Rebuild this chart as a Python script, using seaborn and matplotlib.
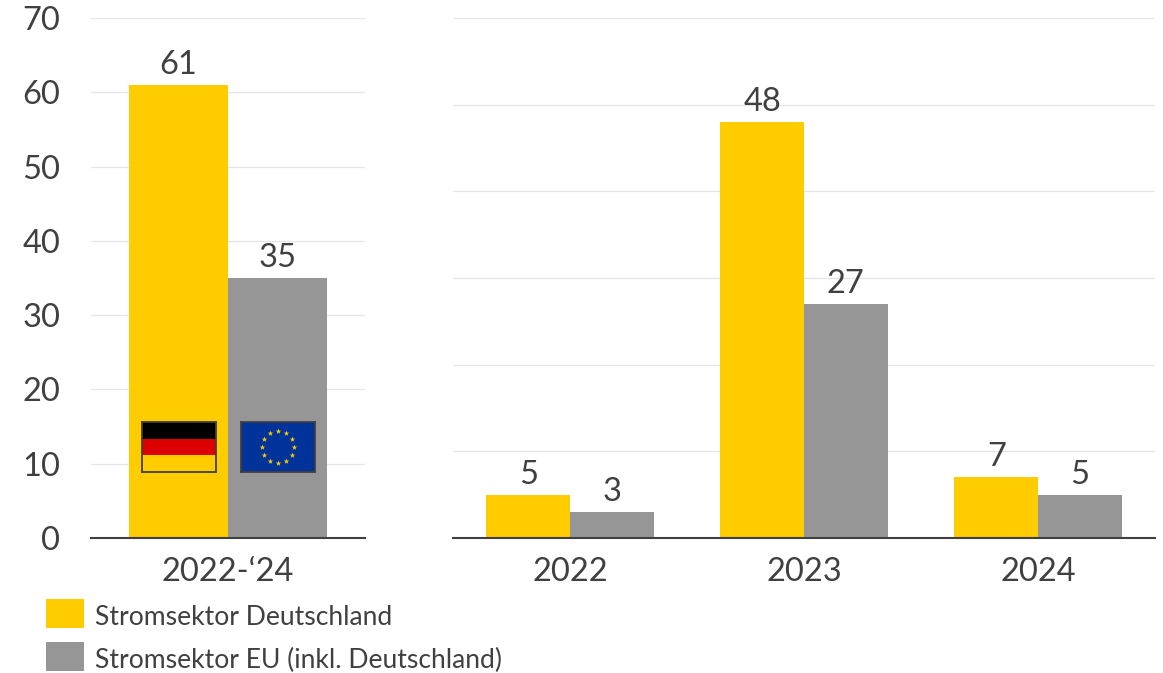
import numpy as np
import pandas as pd
import matplotlib
matplotlib.use("Agg")
import matplotlib.pyplot as plt
from matplotlib.patches import Rectangle
import seaborn as sns

series_names = ["Stromsektor Deutschland", "Stromsektor EU (inkl. Deutschland)"]
series_colors = ["#FFCC00", "#969696"]

total_period = ["2022-‘24"]
total_de = [61]
total_eu = [35]

years = ["2022", "2023", "2024"]
yearly_de = [5, 48, 7]
yearly_eu = [3, 27, 5]

TEXT = "#404040"
GRID = "#E6E6E6"
W, H = 1163, 673


def long_table(cats, de, eu):
    return pd.DataFrame({
        "period": cats * 2,
        "value": list(de) + list(eu),
        "series": [series_names[0]] * len(cats) + [series_names[1]] * len(cats),
    })


def axes_box(x0, x1, y_top, y_bottom):
    return [x0 / W, (H - y_bottom) / H, (x1 - x0) / W, (y_bottom - y_top) / H]


sns.set_theme(style="white")
plt.rcParams["font.family"] = ["Lato", "DejaVu Sans"]

fig = plt.figure(figsize=(W / 100, H / 100), dpi=100, facecolor="white")
ax_total = fig.add_axes(axes_box(91, 365, 18, 538))
ax_years = fig.add_axes(axes_box(453, 1155, 18, 538))

palette = dict(zip(series_names, series_colors))
sns.barplot(data=long_table(total_period, total_de, total_eu), x="period", y="value",
            hue="series", palette=palette, width=0.723, gap=0, saturation=1,
            linewidth=0, ax=ax_total, zorder=3)
sns.barplot(data=long_table(years, yearly_de, yearly_eu), x="period", y="value",
            hue="series", palette=palette, width=0.714, gap=0, saturation=1,
            linewidth=0, ax=ax_years, zorder=3)

handles, labels = ax_total.get_legend_handles_labels()
ax_total.get_legend().remove()
ax_years.get_legend().remove()

ax_total.set_ylim(0, 70)
ax_total.set_yticks(np.arange(0, 71, 10))
ax_years.set_ylim(0, 60)
ax_years.set_yticks(np.arange(0, 61, 10))
ax_years.tick_params(axis="y", labelleft=False)

for ax in (ax_total, ax_years):
    ax.set_xlabel("")
    ax.set_ylabel("")
    ax.set_axisbelow(True)
    ax.grid(axis="y", color=GRID, linewidth=0.9)
    for side in ("top", "left", "right"):
        ax.spines[side].set_visible(False)
    ax.spines["bottom"].set_color(TEXT)
    ax.spines["bottom"].set_linewidth(1.5)
    ax.spines["bottom"].set_zorder(5)
    ax.tick_params(axis="x", length=0, pad=13.5, labelsize=23.5, labelcolor=TEXT)
    ax.tick_params(axis="y", length=0, pad=22, labelsize=23.5, labelcolor=TEXT)
    for bars in ax.containers:
        ax.bar_label(bars, fmt="%d", padding=3.5, fontsize=23.5, color=TEXT)


def flag_axes(x0, x1, y_top, y_bottom):
    flag = fig.add_axes(axes_box(x0, x1, y_top, y_bottom), zorder=6)
    flag.set_xlim(0, 1)
    flag.set_ylim(0, 1)
    flag.set_xticks([])
    flag.set_yticks([])
    for spine in flag.spines.values():
        spine.set_color("#404040")
        spine.set_linewidth(1.3)
    return flag


# German tricolour
de_flag = flag_axes(142, 216, 422, 472)
for i, col in enumerate(["#FFCC00", "#DD0000", "#000000"]):
    de_flag.add_patch(Rectangle((0, i / 3), 1, 1 / 3, color=col, lw=0))

# European flag: twelve stars on a ring
eu_flag = flag_axes(241, 315, 422, 472)
eu_flag.set_facecolor("#003399")
angles = np.deg2rad(np.arange(0, 360, 30))
eu_flag.scatter(0.5 + 0.216 * np.cos(angles), 0.5 + 0.32 * np.sin(angles),
                marker="*", s=18, color="#FFCC00", linewidths=0)

legend = fig.legend(handles, labels, loc="upper left", bbox_to_anchor=(46 / W, 1 - 599 / H),
                    borderaxespad=0, borderpad=0, frameon=False, fontsize=19.1,
                    handlelength=1.43, handleheight=1.3, handletextpad=0.41,
                    labelspacing=0.52, labelcolor=TEXT)
# Drop the labels slightly so they sit centred on their swatches
for label in legend.get_texts():
    label.set_y(-2.5)

fig.savefig("out.png", dpi=100)
